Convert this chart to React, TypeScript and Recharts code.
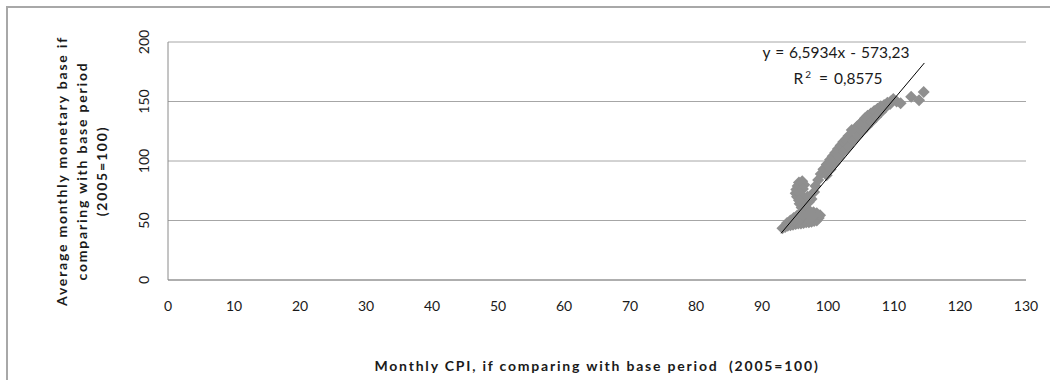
import React from "react";
import {
  ScatterChart,
  Scatter,
  XAxis,
  YAxis,
  CartesianGrid,
} from "recharts";

// monthly CPI (2005=100) vs. average monthly monetary base (2005=100)
const cpiValues = [
  93.1, 93.5, 93.9, 94.3, 94.7, 95.1, 95.5, 95.9, 96.3, 96.7, 97.1, 97.5, 97.9, 98.3, 98.6, 98.8,
  98.3, 97.8, 97.3, 96.8, 96.3, 95.8, 95.3, 94.8, 94.3, 93.8, 94.8, 95.8, 96.8, 97.6, 96.2, 97.2,
  96.0, 96.6, 97.1, 97.5, 95.7, 96.3, 96.9,
  95.3, 95.1, 95.2, 95.4, 95.6, 96.1, 96.4, 96.2, 95.8, 95.6,
  97.9, 98.1, 98.5, 98.9, 99.3, 99.8, 100.3, 100.7, 101.1, 101.5, 101.9, 102.3, 102.7, 103.1,
  103.6, 104.0, 104.4, 104.8, 105.2, 105.6, 106.0, 106.5, 107.0, 107.5, 108.0, 108.5, 109.0,
  109.5, 109.9,
  99.8, 100.4, 101.0, 101.7, 102.4, 103.1, 103.8, 104.5, 105.2, 105.9, 106.6, 107.3, 108.0,
  108.7, 109.4,
  110.4, 111.0, 112.6, 113.8, 114.5,
];
const baseValues = [
  43.5, 44.5, 45.5, 46, 46.5, 47, 47.5, 47.5, 48, 48.5, 48.5, 49, 49.5, 50, 52, 54.5,
  56, 57, 57.5, 58, 58.5, 56, 54, 52, 50, 48, 49.5, 51, 52.5, 53, 54.5, 55,
  61, 63.5, 65.5, 68, 64, 66.5, 70,
  70, 73, 76, 79, 82, 83, 80, 76.5, 72.5, 67,
  74, 79, 84, 89, 93, 97, 101, 104, 107, 110, 113, 116, 118, 121,
  126, 126, 129, 131, 133, 136, 138, 140, 142, 144, 146, 147, 149,
  150, 152,
  88, 93, 98, 103, 108, 112, 117, 121, 125, 129, 133, 137, 141,
  145, 148,
  150, 148.5, 154, 151, 158,
];

const xTicks = [0, 10, 20, 30, 40, 50, 60, 70, 80, 90, 100, 110, 120, 130];
const yTicks = [0, 50, 100, 150, 200];

// linear trend shown on the chart: y = 6,5934x - 573,23
const trendSlope = 6.5934;
const trendIntercept = -573.23;
const trendXRange = [92.9, 114.6];

const points = cpiValues.map((x, i) => ({ x, y: baseValues[i] }));
const trendSegment = trendXRange.map((x) => ({ x, y: trendSlope * x + trendIntercept }));

const FONT = "Lato, 'Open Sans', sans-serif";

const Diamond = (props: any) => {
  const { cx, cy } = props;
  const r = 6;
  return (
    <path
      d={`M${cx},${cy - r}L${cx + r},${cy}L${cx},${cy + r}L${cx - r},${cy}Z`}
      fill="#8f8f8f"
    />
  );
};

const NoDot = () => <g />;

const XTick = ({ x, y, payload }: any) => (
  <text x={x} y={y + 25} textAnchor="middle" dominantBaseline="central" fontSize={14} fill="#1a1a1a" fontFamily={FONT}>
    {payload.value}
  </text>
);

const YTick = ({ x, y, payload }: any) => (
  <text
    x={0}
    y={0}
    transform={`translate(${x - 25},${y}) rotate(-90)`}
    textAnchor="middle"
    dominantBaseline="central"
    fontSize={14}
    fill="#1a1a1a"
    fontFamily={FONT}
  >
    {payload.value}
  </text>
);

export default function App() {
  return (
    <div style={{ position: "absolute", left: 0, top: 0, width: 1050, height: 380, overflow: "hidden", background: "#fff", fontFamily: FONT }}>
      <div style={{ position: "absolute", left: 6, top: 6, width: 1200, height: 600, borderTop: "2px solid #a8a8a8", borderLeft: "2px solid #a8a8a8" }} />
      <ScatterChart width={1050} height={380} margin={{ top: 42, right: 24, bottom: 70, left: 128 }}>
        <CartesianGrid horizontal vertical={false} stroke="#a6a6a6" />
        <XAxis
          type="number"
          dataKey="x"
          domain={[0, 130]}
          ticks={xTicks}
          interval={0}
          height={30}
          tickLine={false}
          tickSize={0}
          tickMargin={0}
          axisLine={{ stroke: "#8a8a8a" }}
          tick={<XTick />}
        />
        <YAxis
          type="number"
          dataKey="y"
          domain={[0, 200]}
          ticks={yTicks}
          interval={0}
          width={40}
          tickLine={false}
          tickSize={0}
          tickMargin={0}
          axisLine={{ stroke: "#8a8a8a" }}
          tick={<YTick />}
        />
        <Scatter data={points} shape={<Diamond />} isAnimationActive={false} />
        <Scatter
          data={trendSegment}
          line={{ stroke: "#000", strokeWidth: 1 }}
          shape={<NoDot />}
          isAnimationActive={false}
        />
      </ScatterChart>

      <div style={{ position: "absolute", left: 736, top: 43, width: 200, textAlign: "center", fontSize: 15.5, color: "#1a1a1a", lineHeight: "18px", wordSpacing: 1 }}>
        y = 6,5934x - 573,23
      </div>
      <div style={{ position: "absolute", left: 738, top: 65, width: 200, textAlign: "center", fontSize: 15.5, color: "#1a1a1a", lineHeight: "18px", wordSpacing: 2 }}>
        R<sup style={{ fontSize: 10, verticalAlign: "6px", margin: "0 2px" }}>2</sup> = 0,8575
      </div>

      <div style={{ position: "absolute", left: 297, top: 357, width: 600, textAlign: "center", fontSize: 14, fontWeight: 700, letterSpacing: 1.8, color: "#1a1a1a", whiteSpace: "pre" }}>
        {"Monthly CPI, if comparing with base period  (2005=100)"}
      </div>

      <div
        style={{
          position: "absolute",
          left: 82 - 150,
          top: 171 - 30,
          width: 300,
          height: 60,
          transform: "rotate(-90deg)",
          textAlign: "center",
          fontSize: 14,
          fontWeight: 700,
          letterSpacing: 1.8,
          lineHeight: "20px",
          color: "#1a1a1a",
        }}
      >
        <div>Average monthly monetary base if</div>
        <div>comparing with base period</div>
        <div>(2005=100)</div>
      </div>
    </div>
  );
}
